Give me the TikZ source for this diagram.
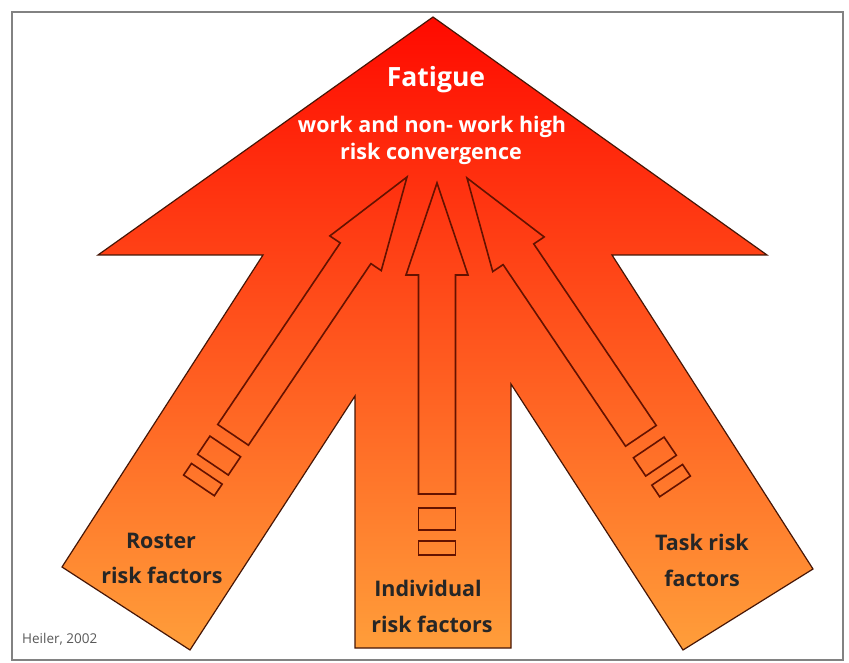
\documentclass[tikz,border=0pt]{standalone}
\usepackage{fontspec}
\setmainfont{Open Sans}
\definecolor{topred}{RGB}{255,10,0}
\definecolor{midred}{RGB}{255,72,22}
\definecolor{botorange}{RGB}{255,158,58}
\definecolor{outline}{RGB}{70,22,6}
\definecolor{inline}{RGB}{100,18,0}
\definecolor{framegray}{RGB}{130,130,130}
\begin{document}
\begin{tikzpicture}[x=1pt,y=-1pt,
  bigarrow/.style={draw=outline, line width=1.2pt, line join=miter,
    top color=topred, middle color=midred, bottom color=botorange},
  inarrow/.style={draw=inline, line width=1.6pt, line join=miter},
  title/.style={inner sep=0pt, text=white, font=\fontsize{26.5}{30}\selectfont\bfseries},
  subtitle/.style={inner sep=0pt, text=white, font=\fontsize{21.5}{26}\selectfont\bfseries},
  lbl/.style={inner sep=0pt, text=black!85, font=\fontsize{21.5}{26}\selectfont\bfseries},
  credit/.style={inner sep=0pt, text=black!65, font=\fontsize{13.5}{16}\selectfont}]
\useasboundingbox (0,0) rectangle (849,663);
\fill[white] (0,0) rectangle (849,663);
\draw[framegray, line width=1.4pt] (12,12) rectangle (843,660);

% big three-pronged arrow
\path[bigarrow] (433,17) -- (767,255) -- (612,255) -- (813,569) -- (683,650)
  -- (511,384) -- (511,648) -- (355,648) -- (355,396) -- (190,650)
  -- (62,567) -- (263,255) -- (98,255) -- cycle;

% inner outline arrows
\tikzset{smallarrow/.pic={
  \draw[inarrow] (0,0) -- (31,92) -- (18.5,92) -- (18.5,311) -- (-18.5,311)
    -- (-18.5,92) -- (-31,92) -- cycle;
  \draw[inarrow] (-18.5,325) rectangle (18.5,347);
  \draw[inarrow] (-18.5,358) rectangle (18.5,372);
}}
\pic (leftarrow) [shift={(407,177)}, rotate=-34] {smallarrow};
\pic (midarrow) [shift={(437,183)}] {smallarrow};
\pic (rightarrow) [shift={(467,178)}, rotate=34] {smallarrow};

% texts
\node[title, anchor=base] (fatigue) at (436,87) {Fatigue};
\node[subtitle, anchor=base] (conv1) at (432,133) {work and non- work high};
\node[subtitle, anchor=base] (conv2) at (431,160) {risk convergence};

\node[lbl, anchor=base] (roster1) at (161,548) {Roster};
\node[lbl, anchor=base] (roster2) at (162,583) {risk factors};
\node[lbl, anchor=base] (indiv1) at (428,596) {Individual};
\node[lbl, anchor=base] (indiv2) at (432,632) {risk factors};
\node[lbl, anchor=base] (task1) at (702,550) {Task risk};
\node[lbl, anchor=base] (task2) at (702,586) {factors};

\node[credit, anchor=base west] (credit) at (22,643) {Heiler, 2002};
\end{tikzpicture}
\end{document}
